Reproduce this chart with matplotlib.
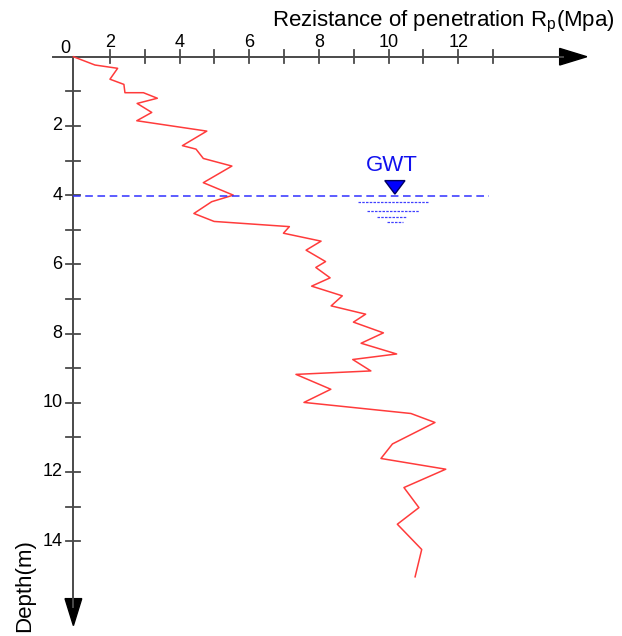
import numpy as np
import matplotlib.pyplot as plt
from matplotlib.patches import Polygon

plt.rcParams['font.family'] = ['Liberation Sans', 'DejaVu Sans']

# penetration resistance profile (Mpa) vs depth (m)
rp = [0.95, 1.57, 2.22, 2.00, 2.40, 2.43, 2.96, 3.36, 2.78, 3.20, 2.77, 4.78, 4.08, 4.47,
      4.68, 5.50, 4.68, 5.54, 4.92, 4.41, 4.99, 7.15, 6.98, 8.06, 7.63, 8.19, 7.91, 8.32,
      7.79, 8.67, 8.35, 9.34, 8.99, 9.85, 9.21, 10.23, 8.97, 9.49, 7.34, 8.34, 7.57, 10.64,
      11.33, 10.11, 9.78, 11.64, 10.44, 10.87, 10.25, 10.95, 10.76]
depth = [0.00, 0.24, 0.335, 0.65, 0.80, 1.04, 1.04, 1.20, 1.35, 1.61, 1.85, 2.15, 2.57, 2.67,
         2.94, 3.16, 3.64, 4.00, 4.19, 4.53, 4.76, 4.91, 5.10, 5.33, 5.59, 5.92, 6.09, 6.39,
         6.63, 6.91, 7.20, 7.44, 7.67, 7.98, 8.28, 8.59, 8.75, 9.08, 9.18, 9.61, 9.99, 10.31,
         10.57, 11.19, 11.61, 11.92, 12.45, 13.03, 13.51, 14.24, 15.03]

x_major = [2, 4, 6, 8, 10, 12]
x_minor = [3, 5, 7, 9, 11, 13]
y_major = [2, 4, 6, 8, 10, 12, 14]
y_minor = [1, 3, 5, 7, 9, 11, 13]

x0 = 0.95          # where the depth axis crosses
gwt = 4.03
gwt_x = 10.18
# short dotted lines under the water table symbol
hatch_y = [4.21, 4.47, 4.63, 4.77]
hatch_x1 = [9.13, 9.37, 9.66, 9.95]
hatch_x2 = [11.14, 10.88, 10.50, 10.40]

axis_col = '#4a4a4a'

fig = plt.figure(figsize=(6.22, 6.36), dpi=100)
ax = fig.add_axes([0, 0, 1, 1])
ax.set_xlim(-1.157, 16.70)
ax.set_ylim(16.74, -1.639)
ax.axis('off')

# axes lines
ax.plot([0.365, 15.0], [0, 0], color=axis_col, lw=1.4)
ax.plot([x0, x0], [0, 15.9], color=axis_col, lw=1.4)
ax.add_patch(Polygon([[14.91, -0.24], [15.69, 0], [14.91, 0.24]], closed=True, color='black'))
ax.add_patch(Polygon([[x0 - 0.24, 15.66], [x0, 16.44], [x0 + 0.24, 15.66]], closed=True, color='black'))

# ticks
for v in x_major + x_minor:
    ax.plot([v, v], [-0.18, 0.18], color=axis_col, lw=1.3)
for v in y_major + y_minor:
    ax.plot([x0 - 0.2, x0 + 0.2], [v, v], color=axis_col, lw=1.3)
for v in x_major:
    ax.text(v, -0.29, str(v), ha='center', va='baseline', fontsize=13)
for v in y_major:
    ax.text(0.64, v, str(v), ha='right', va='center', fontsize=13)
ax.text(0.853, -0.107, '0', ha='right', va='baseline', fontsize=13)

ax.text(6.64, -0.867, r'Rezistance of penetration R$_\mathregular{p}$(Mpa)', ha='left',
        va='baseline', fontsize=16)
ax.text(-0.44, 15.27, 'Depth(m)', rotation=90, ha='center', va='center', fontsize=16)

# profile
ax.plot(rp, depth, color='#ff3b3b', lw=1.1)

# ground water table
ax.plot([x0, 12.88], [gwt, gwt], color='#3030ff', lw=1.1, linestyle=(0, (5, 3)))
for yy, a, b in zip(hatch_y, hatch_x1, hatch_x2):
    ax.plot([a, b], [yy, yy], color='#4040ff', lw=0.9, linestyle=(0, (2, 1)))
ax.add_patch(Polygon([[gwt_x - 0.29, 3.58], [gwt_x, gwt - 0.06], [gwt_x + 0.29, 3.58]],
                     closed=True, facecolor='#0000ff', edgecolor='#000060', lw=1))
ax.text(10.09, 3.295, 'GWT', color='#1010ee', ha='center', va='baseline', fontsize=16)

fig.savefig('out.png', dpi=100)
